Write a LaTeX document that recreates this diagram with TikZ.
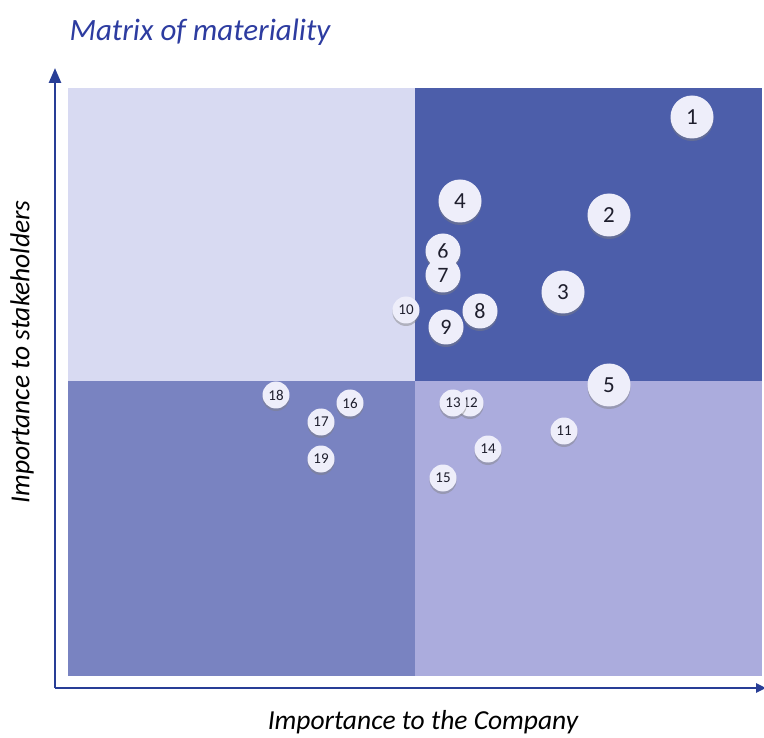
\documentclass[tikz,border=0pt]{standalone}
\usepackage{fontspec}
\setmainfont{Carlito}
\usetikzlibrary{shadows,arrows.meta}
\definecolor{titleblue}{RGB}{45,60,160}
\definecolor{axisblue}{RGB}{40,62,150}
\definecolor{quadtl}{RGB}{216,218,242}
\definecolor{quadtr}{RGB}{76,94,170}
\definecolor{quadbl}{RGB}{121,131,193}
\definecolor{quadbr}{RGB}{171,172,221}
\definecolor{bubblefill}{RGB}{238,238,250}
\definecolor{bubbletext}{RGB}{30,30,45}
\tikzset{
bubble/.style={circle, fill=bubblefill, inner sep=0pt, text=bubbletext, drop shadow={opacity=0.45, shadow xshift=0pt, shadow yshift=-2.5pt}},
bigbubble/.style={bubble, minimum size=43pt, font=\fontsize{23}{23}\selectfont},
midbubble/.style={bubble, minimum size=35pt, font=\fontsize{22}{22}\selectfont},
smallbubble/.style={bubble, minimum size=27pt, font=\fontsize{15}{15}\selectfont},
axisline/.style={draw=axisblue, line width=2.5pt},
axislabel/.style={font=\fontsize{27.5}{27.5}\selectfont\itshape, text=black},
}

\begin{document}
\begin{tikzpicture}[x=1pt,y=-1pt]
        \useasboundingbox (0,0) rectangle (764,738);
        \fill[quadtl] (68,88) rectangle (415,381);
        \fill[quadtr] (415,88) rectangle (762,381);
        \fill[quadbl] (68,381) rectangle (415,676);
        \fill[quadbr] (415,381) rectangle (762,676);
        \node[anchor=west, font=\fontsize{31}{31}\selectfont\itshape, text=titleblue] at (66,32) (title) {Matrix of materiality};
        \node[axislabel] at (423,722) (xlabel) {Importance to the Company};
        \node[axislabel, rotate=90] at (22,352) (ylabel) {Importance to stakeholders};
        \coordinate (origin) at (55,688);
        \coordinate (ytop) at (55,68);
        \coordinate (xend) at (766,688);
        \draw[axisline, -{Triangle[length=15pt,width=12pt]}] (origin) -- (ytop);
        \draw[axisline, -{Triangle[length=10pt,width=9pt]}] (origin) -- (xend);
        \node[bigbubble] at (692,117) (b1) {1};
        \node[bigbubble] at (609,215) (b2) {2};
        \node[bigbubble] at (563,292) (b3) {3};
        \node[bigbubble] at (460,201) (b4) {4};
        \node[bigbubble] at (609,385) (b5) {5};
        \node[midbubble] at (443,251) (b6) {6};
        \node[midbubble] at (443,275) (b7) {7};
        \node[midbubble] at (480,311) (b8) {8};
        \node[midbubble] at (446,327) (b9) {9};
        \node[smallbubble] at (406,310) (b10) {10};
        \node[smallbubble] at (564,431) (b11) {11};
        \node[smallbubble] at (470,403) (b12) {12};
        \node[smallbubble] at (453,403) (b13) {13};
        \node[smallbubble] at (488,449) (b14) {14};
        \node[smallbubble] at (443,478) (b15) {15};
        \node[smallbubble] at (350,403) (b16) {16};
        \node[smallbubble] at (321,422) (b17) {17};
        \node[smallbubble] at (276,395) (b18) {18};
        \node[smallbubble] at (321,459) (b19) {19};
    \end{tikzpicture}
\end{document}
